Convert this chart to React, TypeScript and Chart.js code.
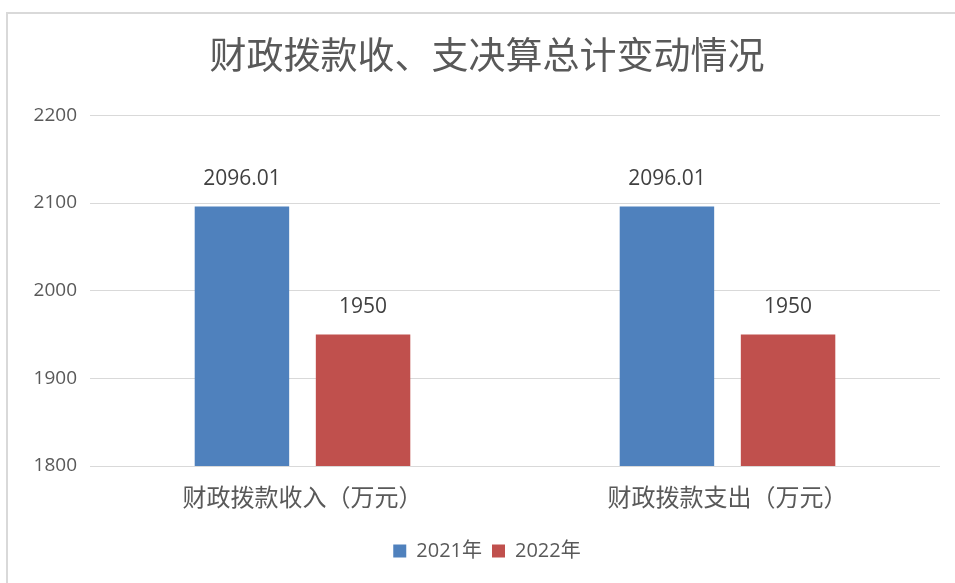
import React, { useEffect, useRef } from "react";
import { Chart, registerables } from "chart.js";

Chart.register(...registerables);

const titleText = "财政拨款收、支决算总计变动情况";
const categories = ["财政拨款收入（万元）", "财政拨款支出（万元）"];
const seriesNames = ["2021年", "2022年"];
const values2021 = [2096.01, 2096.01];
const values2022 = [1950, 1950];
const valueLabels2021 = ["2096.01", "2096.01"];
const valueLabels2022 = ["1950", "1950"];
const yTicks = [1800, 1900, 2000, 2100, 2200];

const FONT = "'Noto Sans CJK SC', 'Open Sans', sans-serif";
const NUMFONT = "'Open Sans', 'Noto Sans CJK SC', sans-serif";

const dataLabelPlugin = {
  id: "dataLabels",
  afterDatasetsDraw(chart: any) {
    const ctx = chart.ctx;
    const labels = [valueLabels2021, valueLabels2022];
    ctx.save();
    ctx.font = `21px ${NUMFONT}`;
    ctx.fillStyle = "#404040";
    ctx.textAlign = "center";
    ctx.textBaseline = "middle";
    chart.data.datasets.forEach((ds: any, di: number) => {
      const meta = chart.getDatasetMeta(di);
      meta.data.forEach((bar: any, i: number) => {
        ctx.fillText(labels[di][i], bar.x, bar.y - 28);
      });
    });
    ctx.restore();
  },
};

export default function App() {
  const ref = useRef<HTMLCanvasElement | null>(null);
  useEffect(() => {
    if (!ref.current) return;
    const chart = new Chart(ref.current, {
      type: "bar",
      data: {
        labels: categories,
        datasets: [
          {
            label: seriesNames[0],
            data: values2021,
            backgroundColor: "#4F81BD",
            categoryPercentage: 0.57,
            barPercentage: 0.78,
          },
          {
            label: seriesNames[1],
            data: values2022,
            backgroundColor: "#C0504D",
            categoryPercentage: 0.57,
            barPercentage: 0.78,
          },
        ],
      },
      options: {
        animation: false,
        responsive: false,
        maintainAspectRatio: false,
        layout: { padding: { left: 26, right: 27, top: 12, bottom: 12 } },
        plugins: {
          title: {
            display: true,
            text: titleText,
            color: "#595959",
            font: { family: FONT, size: 37, weight: "normal" },
            padding: { top: 21, bottom: 38 },
          },
          legend: {
            display: true,
            position: "bottom",
            labels: {
              color: "#595959",
              font: { family: NUMFONT, size: 20 },
              boxWidth: 13,
              boxHeight: 13,
              padding: 10,
            },
          },
          tooltip: { enabled: false },
        },
        scales: {
          x: {
            grid: { display: false, drawTicks: false },
            border: { display: false },
            ticks: {
              color: "#595959",
              font: { family: FONT, size: 24 },
              padding: 16,
            },
            afterFit: (s: any) => {
              s.height = 65;
            },
          },
          y: {
            min: 1800,
            max: 2200,
            afterBuildTicks: (s: any) => {
              s.ticks = yTicks.map((v) => ({ value: v }));
            },
            grid: { color: "#d9d9d9", lineWidth: 1, drawTicks: false },
            border: { display: false },
            ticks: {
              color: "#595959",
              font: { family: NUMFONT, size: 19 },
              padding: 13,
              callback: (v: any) => String(v),
            },
            afterFit: (s: any) => {
              s.width = 64;
            },
          },
          yPad: {
            type: "linear",
            position: "right",
            display: true,
            grid: { display: false, drawTicks: false },
            border: { display: false },
            ticks: { display: false },
            afterFit: (s: any) => {
              s.width = 8;
            },
          },
        },
      },
      plugins: [dataLabelPlugin],
    });
    return () => chart.destroy();
  }, []);
  return (
    <div
      style={{
        position: "fixed",
        left: 0,
        top: 0,
        width: 955,
        height: 583,
        background: "#fff",
        overflow: "hidden",
      }}
    >
      <div
        style={{
          position: "absolute",
          left: 6,
          top: 12,
          width: 980,
          height: 600,
          borderLeft: "2px solid #d9d9d9",
          borderTop: "2px solid #d9d9d9",
        }}
      />
      <canvas
        ref={ref}
        width={975}
        height={583}
        style={{ position: "absolute", left: 0, top: 0 }}
      />
    </div>
  );
}
